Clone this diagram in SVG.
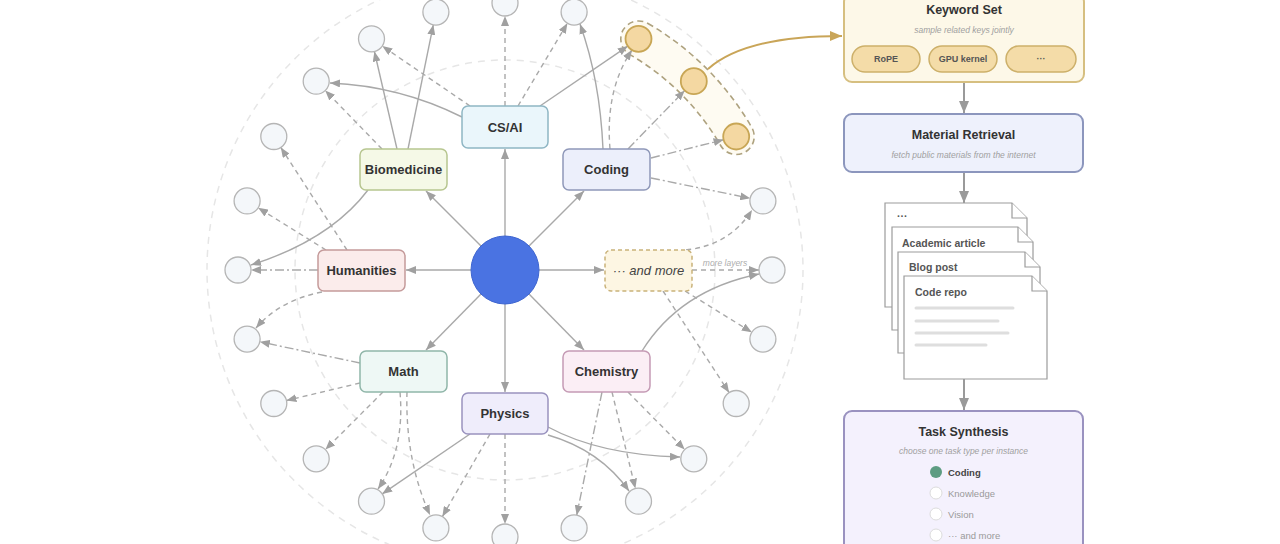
<svg xmlns="http://www.w3.org/2000/svg" width="1280" height="544" viewBox="0 0 1280 544">
<style>
text{font-family:"Liberation Sans",Arial,sans-serif}
.ring{fill:none;stroke:#e6e6e6;stroke-width:1.5;stroke-dasharray:7 6}
.e{fill:none;stroke:#a9a9a9;stroke-width:1.4}
.d{stroke-dasharray:5 4}
.dd{stroke-dasharray:9 3 2 3}
.leaf{fill:#f4f7fa;stroke:#b5b5b5;stroke-width:1.3}
.gold{fill:#f4d8a2;stroke:#c8a655;stroke-width:1.8}
.nl{font-size:13px;font-weight:bold;fill:#333;text-anchor:middle}
.bt{font-size:12.5px;font-weight:bold;fill:#333;text-anchor:middle}
.sub{font-size:8.5px;font-style:italic;fill:#a0a0a0;text-anchor:middle}
.pill{fill:#f4dca8;stroke:#cdb06a;stroke-width:1.5}
.pt{font-size:9px;font-weight:bold;fill:#555;text-anchor:middle}
.doc{fill:#fff;stroke:#9c9c9c;stroke-width:1.2}
.dt{font-size:10.5px;font-weight:bold;fill:#555}
.ln{stroke:#dedede;stroke-width:3;stroke-linecap:round}
.va{fill:none;stroke:#9a9a9a;stroke-width:2}
.opt{font-size:9.5px;fill:#9a9a9a}
</style>
<defs>
<marker id="ah" viewBox="0 0 10 8" refX="10" refY="4" markerWidth="10" markerHeight="8" markerUnits="userSpaceOnUse" orient="auto">
<path d="M0,0 L10,4 L0,8 Z" fill="#a0a0a0"/>
</marker>
<marker id="ahb" viewBox="0 0 12 10" refX="12" refY="5" markerWidth="12" markerHeight="10" markerUnits="userSpaceOnUse" orient="auto">
<path d="M0,0 L12,5 L0,10 Z" fill="#9a9a9a"/>
</marker>
<marker id="ahg" viewBox="0 0 12 10" refX="12" refY="5" markerWidth="12" markerHeight="10" markerUnits="userSpaceOnUse" orient="auto">
<path d="M0,0 L12,5 L0,10 Z" fill="#c9a558"/>
</marker>
</defs>
<rect width="1280" height="544" fill="#ffffff"/>

<g id="rings">
<circle class="ring" cx="505" cy="270" r="210"/>
<circle class="ring" cx="505" cy="270" r="298"/>
</g>

<g id="gold-group">
<path d="M648 23.5 A285 285 0 0 1 751.8 127.5 A18 18 0 0 1 720.6 145.5 A249 249 0 0 0 629.5 54.4 A18 18 0 0 1 648 23.5 Z" fill="#fdf6e3" fill-opacity="0.45" stroke="#aea27f" stroke-width="1.6" stroke-dasharray="6 4"/>
</g>

<g id="connectors">
<line class="e" x1="505" y1="236" x2="505" y2="149" marker-end="url(#ah)"/>
<line class="e" x1="505" y1="304" x2="505" y2="392" marker-end="url(#ah)"/>
<line class="e" x1="471" y1="270" x2="406" y2="270" marker-end="url(#ah)"/>
<line class="e" x1="539" y1="270" x2="604" y2="270" marker-end="url(#ah)"/>
<line class="e" x1="481" y1="246" x2="426" y2="191" marker-end="url(#ah)"/>
<line class="e" x1="529" y1="246" x2="584" y2="191" marker-end="url(#ah)"/>
<line class="e" x1="481" y1="294" x2="426" y2="350" marker-end="url(#ah)"/>
<line class="e" x1="529" y1="294" x2="584" y2="350" marker-end="url(#ah)"/>
<line class="e d" x1="505" y1="106" x2="505" y2="16" marker-end="url(#ah)"/>
<line class="e d" x1="470" y1="106" x2="382.3" y2="46.1" marker-end="url(#ah)"/>
<path class="e" d="M462 117 Q400 86 330 83" marker-end="url(#ah)"/>
<line class="e d" x1="518" y1="106" x2="567.4" y2="23.3" marker-end="url(#ah)"/>
<line class="e" x1="540" y1="106" x2="627.8" y2="46.1" marker-end="url(#ah)"/>
<line class="e d" x1="382" y1="149" x2="325.2" y2="90.5" marker-end="url(#ah)"/>
<line class="e" x1="397" y1="149" x2="374.4" y2="51.5" marker-end="url(#ah)"/>
<line class="e" x1="408" y1="149" x2="433.3" y2="24.8" marker-end="url(#ah)"/>
<path class="e" d="M368 190 Q330 240 251 265" marker-end="url(#ah)"/>
<line class="e d" x1="347" y1="250" x2="280.8" y2="147.4" marker-end="url(#ah)"/>
<line class="e d" x1="326" y1="250" x2="258.1" y2="207.8" marker-end="url(#ah)"/>
<line class="e dd" x1="318" y1="270" x2="251" y2="270" marker-end="url(#ah)"/>
<path class="e d" d="M322 292 Q280 300 256 328" marker-end="url(#ah)"/>
<line class="e dd" x1="360" y1="363" x2="259.8" y2="341.8" marker-end="url(#ah)"/>
<line class="e d" x1="360" y1="383" x2="286.4" y2="400.5" marker-end="url(#ah)"/>
<line class="e d" x1="383" y1="392" x2="325.4" y2="449.6" marker-end="url(#ah)"/>
<path class="e d" d="M400 392 Q405 450 378 489" marker-end="url(#ah)"/>
<path class="e d" d="M407 392 Q405 460 430 515" marker-end="url(#ah)"/>
<line class="e d" x1="505" y1="434" x2="505" y2="524" marker-end="url(#ah)"/>
<line class="e" x1="470" y1="434" x2="382.2" y2="493.9" marker-end="url(#ah)"/>
<line class="e d" x1="490" y1="434" x2="442.4" y2="516.6" marker-end="url(#ah)"/>
<path class="e" d="M548 427 Q600 455 680 457" marker-end="url(#ah)"/>
<path class="e" d="M548 435 Q600 450 629 491" marker-end="url(#ah)"/>
<line class="e dd" x1="602" y1="392" x2="576.7" y2="515.2" marker-end="url(#ah)"/>
<line class="e d" x1="612" y1="392" x2="635.4" y2="488.6" marker-end="url(#ah)"/>
<line class="e d" x1="628" y1="392" x2="684.7" y2="449.5" marker-end="url(#ah)"/>
<path class="e" d="M642 351 Q680 290 759 274" marker-end="url(#ah)"/>
<line class="e d" x1="692" y1="270" x2="759" y2="270" marker-end="url(#ah)"/>
<path class="e d" d="M686 250 Q730 245 752 210" marker-end="url(#ah)"/>
<line class="e d" x1="685" y1="291" x2="751.8" y2="332.3" marker-end="url(#ah)"/>
<line class="e d" x1="663" y1="291" x2="729.1" y2="392.6" marker-end="url(#ah)"/>
<path class="e" d="M603 149 Q600 80 580 24" marker-end="url(#ah)"/>
<path class="e d" d="M610 149 Q605 90 632 50" marker-end="url(#ah)"/>
<line class="e dd" x1="628" y1="149" x2="684.7" y2="90.5" marker-end="url(#ah)"/>
<line class="e dd" x1="651" y1="158" x2="723.6" y2="139.7" marker-end="url(#ah)"/>
<line class="e dd" x1="651" y1="178" x2="750.2" y2="198.3" marker-end="url(#ah)"/>
<path d="M708 69 Q745 36 842 36" fill="none" stroke="#c9a558" stroke-width="2" marker-end="url(#ahg)"/>
<line class="va" x1="964" y1="82" x2="964" y2="113" marker-end="url(#ahb)"/>
<line class="va" x1="964" y1="172" x2="964" y2="203" marker-end="url(#ahb)"/>
<line class="va" x1="964" y1="379" x2="964" y2="410" marker-end="url(#ahb)"/>
</g>
<text x="725" y="266" font-size="8.5" font-style="italic" fill="#adadad" text-anchor="middle">more layers</text>

<g id="center"><circle cx="505" cy="270" r="34" fill="#4a73e2" stroke="#3f66d0" stroke-width="1"/></g>

<g id="n-csai"><rect x="462" y="106" width="86" height="42" rx="6" fill="#eaf6fb" stroke="#8fb6c4" stroke-width="1.5"/><text class="nl" x="505" y="132">CS/AI</text></g>
<g id="n-bio"><rect x="360" y="149" width="87" height="41" rx="6" fill="#f5f9e7" stroke="#b7c690" stroke-width="1.5"/><text class="nl" x="403.5" y="174">Biomedicine</text></g>
<g id="n-coding"><rect x="563" y="149" width="87" height="41" rx="6" fill="#eceffb" stroke="#8f98b9" stroke-width="1.5"/><text class="nl" x="606.5" y="174">Coding</text></g>
<g id="n-hum"><rect x="318" y="250" width="87" height="41" rx="6" fill="#fbeceb" stroke="#c59b9b" stroke-width="1.5"/><text class="nl" x="361.5" y="275">Humanities</text></g>
<g id="n-more"><rect x="605" y="250" width="87" height="41" rx="6" fill="#fdf6e3" stroke="#c9b27a" stroke-width="1.5" stroke-dasharray="4 3"/><text x="648.5" y="275" font-size="13" font-style="italic" fill="#444" text-anchor="middle">··· and more</text></g>
<g id="n-math"><rect x="360" y="351" width="87" height="41" rx="6" fill="#eef8f5" stroke="#90b6a9" stroke-width="1.5"/><text class="nl" x="403.5" y="376">Math</text></g>
<g id="n-chem"><rect x="563" y="351" width="87" height="41" rx="6" fill="#fbeef5" stroke="#c59bb5" stroke-width="1.5"/><text class="nl" x="606.5" y="376">Chemistry</text></g>
<g id="n-phys"><rect x="462" y="393" width="86" height="41" rx="6" fill="#efedfb" stroke="#9a93bf" stroke-width="1.5"/><text class="nl" x="505" y="418">Physics</text></g>

<g id="leaf-m90"><circle class="leaf" cx="505" cy="3" r="13"/></g>
<g id="leaf-m105"><circle class="leaf" cx="435.9" cy="12.1" r="13"/></g>
<g id="leaf-m120"><circle class="leaf" cx="371.5" cy="38.8" r="13"/></g>
<g id="leaf-m135"><circle class="leaf" cx="316.2" cy="81.2" r="13"/></g>
<g id="leaf-m150"><circle class="leaf" cx="273.8" cy="136.5" r="13"/></g>
<g id="leaf-m165"><circle class="leaf" cx="247.1" cy="200.9" r="13"/></g>
<g id="leaf-180"><circle class="leaf" cx="238" cy="270" r="13"/></g>
<g id="leaf-165"><circle class="leaf" cx="247.1" cy="339.1" r="13"/></g>
<g id="leaf-150"><circle class="leaf" cx="273.8" cy="403.5" r="13"/></g>
<g id="leaf-135"><circle class="leaf" cx="316.2" cy="458.8" r="13"/></g>
<g id="leaf-120"><circle class="leaf" cx="371.5" cy="501.2" r="13"/></g>
<g id="leaf-105"><circle class="leaf" cx="435.9" cy="527.9" r="13"/></g>
<g id="leaf-90"><circle class="leaf" cx="505" cy="537" r="13"/></g>
<g id="leaf-75"><circle class="leaf" cx="574.1" cy="527.9" r="13"/></g>
<g id="leaf-60"><circle class="leaf" cx="638.5" cy="501.2" r="13"/></g>
<g id="leaf-45"><circle class="leaf" cx="693.8" cy="458.8" r="13"/></g>
<g id="leaf-30"><circle class="leaf" cx="736.2" cy="403.5" r="13"/></g>
<g id="leaf-15"><circle class="leaf" cx="762.9" cy="339.1" r="13"/></g>
<g id="leaf-0"><circle class="leaf" cx="772" cy="270" r="13"/></g>
<g id="leaf-m15"><circle class="leaf" cx="762.9" cy="200.9" r="13"/></g>
<g id="leaf-m30"><circle class="gold" cx="736.2" cy="136.5" r="13"/></g>
<g id="leaf-m45"><circle class="gold" cx="693.8" cy="81.2" r="13"/></g>
<g id="leaf-m60"><circle class="gold" cx="638.5" cy="38.8" r="13"/></g>
<g id="leaf-m75"><circle class="leaf" cx="574.1" cy="12.1" r="13"/></g>

<g id="keyword-set">
<rect x="844" y="-6" width="240" height="88" rx="8" fill="#fdf8e8" stroke="#d6bf80" stroke-width="2"/>
<text class="bt" x="964" y="14">Keyword Set</text>
<text class="sub" x="964" y="33">sample related keys jointly</text>
<rect class="pill" x="852" y="46" width="68" height="26" rx="13"/><text class="pt" x="886" y="62">RoPE</text>
<rect class="pill" x="929" y="46" width="68" height="26" rx="13"/><text class="pt" x="963" y="62">GPU kernel</text>
<rect class="pill" x="1006" y="46" width="70" height="26" rx="13"/><text class="pt" x="1041" y="62">···</text>
</g>

<g id="material-retrieval">
<rect x="844" y="114" width="239" height="58" rx="8" fill="#eef1fc" stroke="#8c96bd" stroke-width="2"/>
<text class="bt" x="963.5" y="139" font-size="13">Material Retrieval</text>
<text class="sub" x="963.5" y="158">fetch public materials from the internet</text>
</g>

<g id="documents">
<path class="doc" d="M885 203 H1012 L1027 218 V307 H885 Z"/><path class="doc" d="M1012 203 V218 H1027"/>
<text class="dt" x="897" y="220">···</text>
<path class="doc" d="M892 227 H1018 L1033 242 V330 H892 Z"/><path class="doc" d="M1018 227 V242 H1033"/>
<text class="dt" x="902" y="247">Academic article</text>
<path class="doc" d="M898 252 H1025 L1040 267 V353 H898 Z"/><path class="doc" d="M1025 252 V267 H1040"/>
<text class="dt" x="909" y="271">Blog post</text>
<path class="doc" d="M904 276 H1032 L1047 291 V379 H904 Z"/><path class="doc" d="M1032 276 V291 H1047"/>
<text class="dt" x="915" y="296">Code repo</text>
<line class="ln" x1="916" y1="308" x2="1013" y2="308"/>
<line class="ln" x1="916" y1="321" x2="998" y2="321"/>
<line class="ln" x1="916" y1="333" x2="1008" y2="333"/>
<line class="ln" x1="916" y1="345" x2="986" y2="345"/>
</g>

<g id="task-synthesis">
<rect x="844" y="411" width="239" height="145" rx="8" fill="#f4f1fd" stroke="#9a92c0" stroke-width="2"/>
<text class="bt" x="963.5" y="436" font-size="13">Task Synthesis</text>
<text class="sub" x="963.5" y="454">choose one task type per instance</text>
<circle cx="936" cy="472" r="6" fill="#5d9c82"/>
<text x="948" y="475.5" font-size="9.5" font-weight="bold" fill="#444">Coding</text>
<circle cx="936" cy="493" r="6" fill="#fff" stroke="#dcdcdc"/>
<text class="opt" x="948" y="496.5">Knowledge</text>
<circle cx="936" cy="514" r="6" fill="#fff" stroke="#dcdcdc"/>
<text class="opt" x="948" y="517.5">Vision</text>
<circle cx="936" cy="535" r="6" fill="#fff" stroke="#dcdcdc"/>
<text class="opt" x="948" y="538.5">··· and more</text>
</g>
</svg>
